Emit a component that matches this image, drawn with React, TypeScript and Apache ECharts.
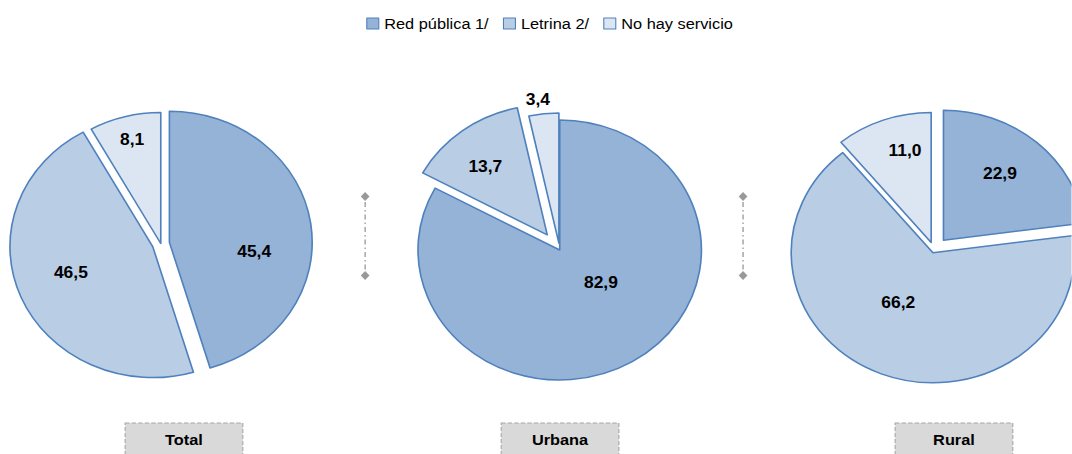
import React, { useEffect, useRef } from "react";
import * as echarts from "echarts";

const categories = ["Red pública 1/", "Letrina 2/", "No hay servicio"];
const regions = ["Total", "Urbana", "Rural"];
const totalValues = [45.4, 46.5, 8.1];
const urbanaValues = [82.9, 13.7, 3.4];
const ruralValues = [22.9, 66.2, 11.0];

const colors = ["#95b3d7", "#b9cde5", "#dce6f2"];
const borderColor = "#4f81bd";
const labelFont = "'Liberation Sans', Arial, sans-serif";

// The reference picture is stretched horizontally; the chart is drawn in an
// unstretched frame and the frame is widened with a CSS scale.
const STRETCH = 1.09;
const FRAME_W = Math.round(1072 / STRETCH);

// layout (style) tables, per pie and per slice
const pieLayout = [
  { center: [147.5, 243.5], radius: 131, explode: [8, 8, 0] },
  { center: [513.5, 250], radius: 130, explode: [0, 19, 7] },
  { center: [857, 250], radius: 130, explode: [13, 3, 8] },
];
const labelNudge = [
  [[10, 19], [-12, 0], [-9, -37]],
  [[3, -26], [-16, -14], [-12, -76]],
  [[7, -15], [-7, -13], [-1, -28]],
];
const boxCenters = [168.8, 513.8, 875.2];
const separatorX = [335, 681.7];

const fmt = (v: number) => v.toFixed(1).replace(".", ",");
const hidden = "rgba(0,0,0,0)";

// One pie series per distinct explode distance, so each slice can be pulled
// out by its own amount (ECharts' selectedOffset is per series).
function buildPies(idx: number, values: number[]) {
  const lay = pieLayout[idx];
  const offsets = Array.from(new Set(lay.explode));
  return offsets.map((off) => ({
    type: "pie",
    name: regions[idx],
    center: lay.center,
    radius: lay.radius,
    startAngle: 90,
    clockwise: true,
    selectedMode: "multiple",
    selectedOffset: off,
    avoidLabelOverlap: false,
    label: {
      show: true,
      position: "inner",
      formatter: (p: any) => fmt(p.value),
      fontSize: 16,
      fontWeight: "bold",
      color: "#000",
      fontFamily: labelFont,
    },
    labelLine: { show: false },
    labelLayout: (p: any) => {
      const n = labelNudge[idx][p.dataIndex];
      return { dx: n[0], dy: n[1] };
    },
    itemStyle: { borderColor, borderWidth: 1.5 },
    emphasis: { disabled: true },
    tooltip: { show: false },
    data: values.map((v, i) => {
      const mine = lay.explode[i] === off;
      const style = mine
        ? { color: colors[i], borderColor, borderWidth: 1.5 }
        : { color: hidden, borderColor: hidden, borderWidth: 0 };
      return {
        name: categories[i],
        value: v,
        selected: mine && off > 0,
        itemStyle: style,
        select: { itemStyle: style },
        label: { show: mine },
      };
    }),
  }));
}

export default function App() {
  const ref = useRef<HTMLDivElement>(null);
  useEffect(() => {
    document.body.style.margin = "0";
    if (!ref.current) return;
    const chart = echarts.init(ref.current, undefined, { renderer: "svg" });

    const graphics: any[] = [];
    separatorX.forEach((x) => {
      graphics.push({
        type: "line",
        shape: { x1: x, y1: 202, x2: x, y2: 271 },
        style: { stroke: "#a0a0a0", lineWidth: 1.3, lineDash: [5, 3, 1.5, 3] },
        silent: true,
      });
      [196.5, 275.5].forEach((y) => {
        graphics.push({
          type: "polygon",
          shape: { points: [[x, y - 4.5], [x + 4, y], [x, y + 4.5], [x - 4, y]] },
          style: { fill: "#999999" },
          silent: true,
        });
      });
    });
    regions.forEach((r, i) => {
      const cx = boxCenters[i];
      graphics.push({
        type: "rect",
        shape: { x: cx - 54, y: 423, width: 108, height: 40 },
        style: { fill: "#d9d9d9", stroke: "#a6a6a6", lineWidth: 1, lineDash: [4, 2] },
        silent: true,
      });
      graphics.push({
        type: "text",
        x: cx,
        y: 440,
        style: {
          text: r,
          fill: "#000",
          font: "bold 15px 'Liberation Sans', Arial, sans-serif",
          textAlign: "center",
          textVerticalAlign: "middle",
        },
        silent: true,
      });
    });

    chart.setOption({
      animation: false,
      color: colors,
      legend: {
        top: 16,
        left: 336,
        padding: 0,
        itemWidth: 11,
        itemHeight: 11,
        itemGap: 13,
        icon: "rect",
        selectedMode: false,
        data: categories.map((c, i) => ({
          name: c,
          itemStyle: { color: colors[i], borderColor, borderWidth: 1 },
        })),
        textStyle: { fontSize: 15, color: "#000", fontFamily: labelFont },
      },
      series: [
        ...buildPies(0, totalValues),
        ...buildPies(1, urbanaValues),
        ...buildPies(2, ruralValues),
      ],
      graphic: graphics,
    });
    return () => chart.dispose();
  }, []);
  return (
    <div style={{ width: 1072, height: 454, overflow: "hidden", position: "relative" }}>
      <div
        ref={ref}
        style={{
          width: FRAME_W,
          height: 454,
          transform: `scaleX(${STRETCH})`,
          transformOrigin: "0 0",
        }}
      />
    </div>
  );
}
